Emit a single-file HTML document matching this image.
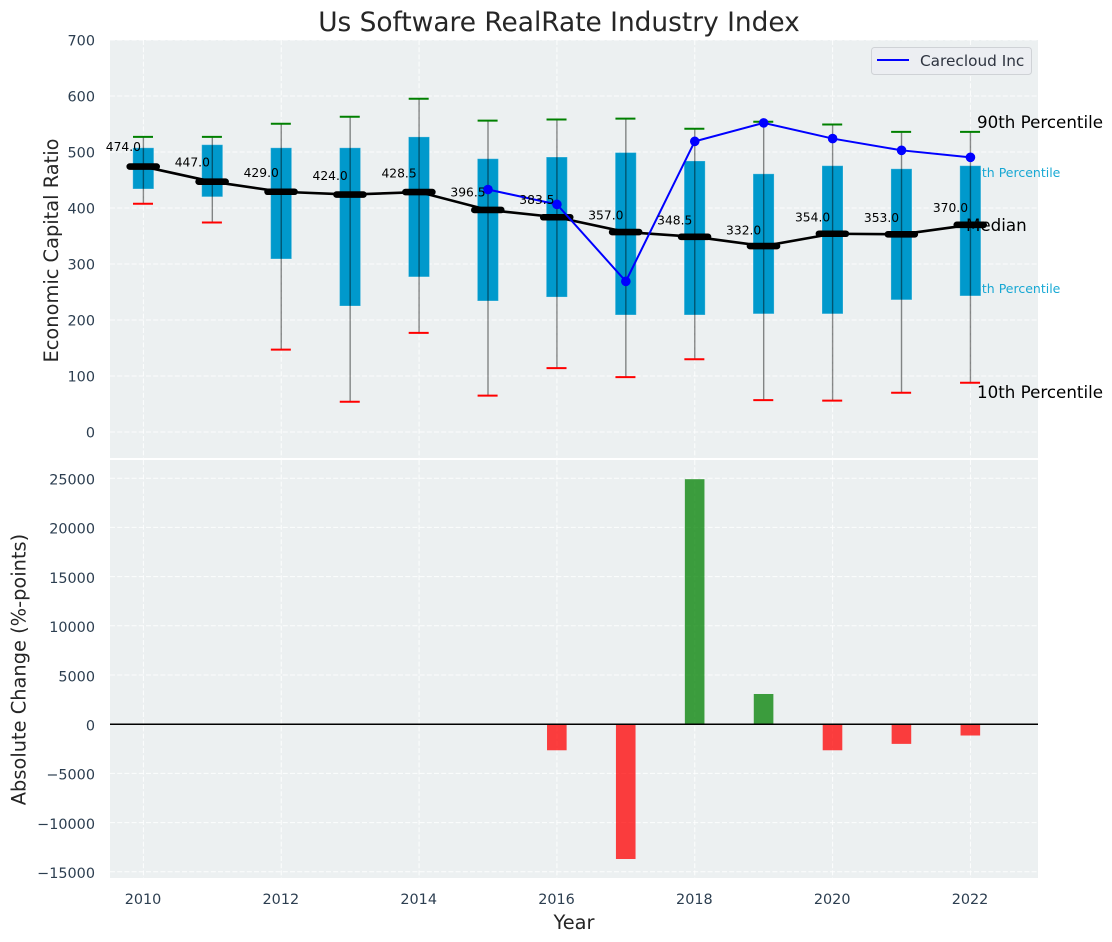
<!DOCTYPE html>
<html lang="en">
<head>
<meta charset="utf-8">
<title>Us Software RealRate Industry Index</title>
<style>
html,body{margin:0;padding:0;background:#fff;width:1112px;height:942px;overflow:hidden}
svg{display:block;font-family:"DejaVu Sans","Liberation Sans",sans-serif}
</style>
</head>
<body>
<svg id="chart" xmlns="http://www.w3.org/2000/svg" width="1112" height="942" viewBox="0 0 1112 942">
<rect x="110" y="40" width="928" height="418" fill="#ecf0f1"/>
<rect x="110" y="460" width="928" height="418" fill="#ecf0f1"/>
<g id="grid"></g>
<g id="bands">
<text x="966" y="177" font-size="12.5" fill="#00a0d0" opacity="0.9">75th Percentile</text>
<text x="966" y="293" font-size="12.5" fill="#00a0d0" opacity="0.9">25th Percentile</text>
</g>
<g id="marks"></g>
<g id="ticks"></g>
<text x="559" y="31" font-size="26.4" fill="#262626" text-anchor="middle">Us Software RealRate Industry Index</text>
<text transform="translate(58,250.5) rotate(-90)" font-size="19.4" fill="#262626" text-anchor="middle">Economic Capital Ratio</text>
<text transform="translate(25.5,669.5) rotate(-90)" font-size="19.4" fill="#262626" text-anchor="middle">Absolute Change (%-points)</text>
<text x="574" y="929" font-size="19.4" fill="#262626" text-anchor="middle">Year</text>
<g>
<rect x="871.5" y="47.5" width="160" height="27" rx="3" fill="#eceef2" stroke="#cfd2d6"/>
<line x1="877" y1="60" x2="909" y2="60" stroke="#0000ff" stroke-width="2"/>
<text x="920" y="66" font-size="15.3" fill="#2e3440">Carecloud Inc</text>
</g>
<text x="977" y="128" font-size="16.7" fill="#000">90th Percentile</text>
<text x="966" y="231" font-size="16.7" fill="#000">Median</text>
<text x="977" y="398" font-size="16.7" fill="#000">10th Percentile</text>
</svg>
<script>
const years = [2010,2011,2012,2013,2014,2015,2016,2017,2018,2019,2020,2021,2022];
const p90 = [527,527,550.5,563,595,556,558,559.5,541.5,554,549,536,536];
const p75 = [507.5,513,507.5,507.5,527,488,491,499,484,461,475.5,470,475.5];
const medians = [474,447,429,424,428.5,396.5,383.5,357,348.5,332,354,353,370];
const p25 = [434,420,309,225,277,234,241,209,209,211,211,236,243];
const p10 = [407.5,374,147,54,177,65,114,98,130,57,56,70,88];
const companyYears = [2015,2016,2017,2018,2019,2020,2021,2022];
const companyValues = [433,406.5,269,519,552,524,503,490.5];
const changeYears = [2016,2017,2018,2019,2020,2021,2022];
const changeValues = [-2650,-13700,24900,3070,-2650,-2000,-1150];
const xTicks = [2010,2012,2014,2016,2018,2020,2022];
const topTicks = [0,100,200,300,400,500,600,700];
const bottomTicks = [-15000,-10000,-5000,0,5000,10000,15000,20000,25000];

const NS = 'http://www.w3.org/2000/svg';
const X = v => 143.4 + (v - 2010) * 68.92;
const YT = v => 432 - v * 0.56;
const YB = v => 724.2 - v * 49.2 / 5000;
function mk(tag, parent, props, text) {
  const el = document.createElementNS(NS, tag);
  for (const k in props) el.setAttribute(k, props[k]);
  if (text !== undefined) el.textContent = text;
  parent.appendChild(el);
  return el;
}
const grid = document.getElementById('grid');
const marks = document.getElementById('marks');
const ticks = document.getElementById('ticks');
const gridStyle = {stroke:'#fff','stroke-width':1,'stroke-dasharray':'5 2.2','stroke-opacity':0.85};

xTicks.forEach(t => {
  const a = mk('line', grid, {x1:X(t),x2:X(t),y1:40,y2:458,...gridStyle});
  
  
  const b = mk('line', grid, {x1:X(t),x2:X(t),y1:460,y2:878,...gridStyle});
  
  
  const l = mk('text', ticks, {x:X(t)-0.4,y:904,'font-size':14.4,fill:'#2c3e50','text-anchor':'middle'}, String(t));
  
  
});
topTicks.forEach(t => {
  const a = mk('line', grid, {x1:110,x2:1038,y1:YT(t),y2:YT(t),...gridStyle});
  
  
  const l = mk('text', ticks, {x:95,y:YT(t)+5.3,'font-size':14.4,fill:'#2c3e50','text-anchor':'end'}, String(t));
  
  
});
bottomTicks.forEach(t => {
  const a = mk('line', grid, {x1:110,x2:1038,y1:YB(t),y2:YB(t),...gridStyle});
  
  
  const l = mk('text', ticks, {x:95,y:YB(t)+6.3,'font-size':14.4,fill:'#2c3e50','text-anchor':'end'}, String(t).replace('-', '\u2212'));
  
  
});

years.forEach((y, i) => {
  const box = mk('rect', marks, {x:X(y)-10.6,y:YT(p75[i]),width:21,height:YT(p25[i])-YT(p75[i]),fill:'#0099cc',stroke:'#fff','stroke-opacity':0.25,'stroke-width':1});
  
  
});
years.forEach((y, i) => {
  const w = mk('line', marks, {x1:X(y),x2:X(y),y1:YT(p90[i]),y2:YT(p10[i]),stroke:'#000','stroke-opacity':0.45,'stroke-width':1.4});
  
  
  const hi = mk('line', marks, {x1:X(y)-10.4,x2:X(y)+9.6,y1:YT(p90[i]),y2:YT(p90[i]),stroke:'#008000','stroke-width':2});
  
  
  const lo = mk('line', marks, {x1:X(y)-10.4,x2:X(y)+9.6,y1:YT(p10[i]),y2:YT(p10[i]),stroke:'#ff0000','stroke-width':2});
  
  
});
const medianLine = mk('polyline', marks, {points:years.map((y,i)=>X(y)+','+YT(medians[i])).join(' '),fill:'none',stroke:'#000','stroke-width':2.6});


years.forEach((y, i) => {
  const m = mk('line', marks, {x1:X(y)-13.7,x2:X(y)+13.3,y1:YT(medians[i]),y2:YT(medians[i]),stroke:'#000','stroke-width':6.6,'stroke-linecap':'round'});
  
  
});
const companyLine = mk('polyline', marks, {points:companyYears.map((y,i)=>X(y)+','+YT(companyValues[i])).join(' '),fill:'none',stroke:'#0000ff','stroke-width':2});


companyYears.forEach((y, i) => {
  const c = mk('circle', marks, {cx:X(y),cy:YT(companyValues[i]),r:4.8,fill:'#0000ff'});
  
  
});
years.forEach((y, i) => {
  const t = mk('text', marks, {x:X(y)-2.4,y:YT(medians[i]*1.05)-2.5,'font-size':12.3,fill:'#000','text-anchor':'end'}, medians[i].toFixed(1));
  
  
});
changeYears.forEach((y, i) => {
  const v = changeValues[i];
  const b = mk('rect', marks, {x:X(y)-9.9,y:Math.min(YB(v),YB(0)),width:19.6,height:Math.abs(YB(v)-YB(0)),fill:v>=0?'#008000':'#ff0000','fill-opacity':0.75});
  
  
});
const zero = mk('line', marks, {x1:110,x2:1038,y1:724.2,y2:724.2,stroke:'#000','stroke-width':1.5});


</script>
</body>
</html>
